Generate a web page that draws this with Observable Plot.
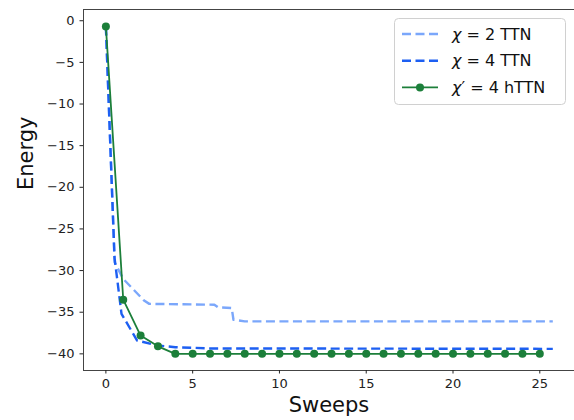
<!DOCTYPE html>
<html><head><meta charset="utf-8">
<script src="https://cdn.jsdelivr.net/npm/d3@7"></script>
<script src="https://cdn.jsdelivr.net/npm/@observablehq/plot@0.6"></script>
<style>
body{margin:0;background:#fff;}
#chart{position:relative;width:574px;height:420px;}
</style>
</head><body><div id="chart"></div>
<script>
// χ = 2 TTN
const sweepsChi2 = [0, 0.5, 1, 2.2, 2.5, 6.25, 6.45, 7.25, 7.35, 8, 25.75];
const energyChi2 = [-0.7, -29.0, -31.0, -33.6, -34.0, -34.1, -34.4, -34.5, -35.9, -36.1, -36.1];
// χ = 4 TTN
const sweepsChi4 = [0, 0.5, 0.9, 1.8, 3, 4, 6, 25.75];
const energyChi4 = [-0.7, -28.5, -35.2, -38.4, -39.0, -39.2, -39.35, -39.4];
// χ' = 4 hTTN
const sweepsH = [0,1,2,3,4,5,6,7,8,9,10,11,12,13,14,15,16,17,18,19,20,21,22,23,24,25];
const energyH = [-0.7,-33.5,-37.8,-39.1,-40.0,-40.0,-40.0,-40.0,-40.0,-40.0,-40.0,-40.0,-40.0,-40.0,-40.0,-40.0,-40.0,-40.0,-40.0,-40.0,-40.0,-40.0,-40.0,-40.0,-40.0,-40.0];

const xTicks = [0, 5, 10, 15, 20, 25];
const yTicks = [0, -5, -10, -15, -20, -25, -30, -35, -40];
const colors = {chi2: "#7ba7fb", chi4: "#1d5ff2", h: "#1c7f3a"};
const legendLabels = [
  {pre: "χ", prime: "", rest: " = 2 TTN"},
  {pre: "χ", prime: "", rest: " = 4 TTN"},
  {pre: "χ", prime: "′", rest: " = 4 hTTN"}
];

const chi2 = sweepsChi2.map((x, i) => ({x, y: energyChi2[i]}));
const chi4 = sweepsChi4.map((x, i) => ({x, y: energyChi4[i]}));
const hT = sweepsH.map((x, i) => ({x, y: energyH[i]}));

const dash = "9,4.5";
const plot = Plot.plot({
  width: 574, height: 420,
  marginLeft: 83, marginTop: 9, marginBottom: 50, marginRight: 0,
  style: {fontFamily: "DejaVu Sans, sans-serif", fontSize: "13px", background: "white", color: "#222"},
  x: {domain: [-1.29, 27.0]},
  y: {domain: [-42.0, 1.35]},
  marks: [
    Plot.line(chi2, {x: "x", y: "y", stroke: colors.chi2, strokeWidth: 2.4, strokeDasharray: dash, strokeLinecap: "butt", strokeLinejoin: "round"}),
    Plot.line(chi4, {x: "x", y: "y", stroke: colors.chi4, strokeWidth: 2.4, strokeDasharray: dash, strokeLinecap: "butt", strokeLinejoin: "round"}),
    Plot.line(hT, {x: "x", y: "y", stroke: colors.h, strokeWidth: 1.8}),
    Plot.dot(hT, {x: "x", y: "y", r: 4, fill: colors.h, stroke: null}),
    Plot.frame({stroke: "#444", strokeWidth: 1}),
    Plot.axisX({ticks: xTicks, tickSize: 3.5, tickPadding: 5, label: null}),
    Plot.axisY({ticks: yTicks, tickSize: 3.5, tickPadding: 5.5, label: null}),
    Plot.text(["Sweeps"], {text: d => d, frameAnchor: "bottom", dy: 41, fontSize: 21, fill: "#111"}),
    Plot.text(["Energy"], {text: d => d, frameAnchor: "left", dx: -57, rotate: -90, fontSize: 21, fill: "#111"})
  ]
});
document.getElementById("chart").appendChild(plot);

// Legend
const svg = d3.select(plot);
const lg = svg.append("g").attr("font-family", "DejaVu Sans, sans-serif")
  .style("font-size", "16px").attr("text-anchor", "start");
lg.append("rect").attr("x", 394.5).attr("y", 18.5).attr("width", 171).attr("height", 86)
  .attr("rx", 4).attr("fill", "rgba(255,255,255,0.85)").attr("stroke", "#d0d0d0");
const rows = [
  {color: colors.chi2, dashed: true, label: legendLabels[0]},
  {color: colors.chi4, dashed: true, label: legendLabels[1]},
  {color: colors.h, dashed: false, label: legendLabels[2]}
];
rows.forEach((r, i) => {
  const cy = 34 + i * 26.7;
  const ln = lg.append("line").attr("x1", 402).attr("x2", 438).attr("y1", cy).attr("y2", cy)
    .attr("stroke", r.color).attr("stroke-width", r.dashed ? 2.4 : 1.8);
  if (r.dashed) ln.attr("stroke-dasharray", dash);
  else lg.append("circle").attr("cx", 420).attr("cy", cy).attr("r", 4).attr("fill", r.color);
  const t = lg.append("text").attr("x", 452).attr("y", cy).attr("dy", "0.36em").attr("fill", "#111");
  t.append("tspan").attr("font-style", "italic").text(r.label.pre);
  if (r.label.prime) t.append("tspan").text(r.label.prime);
  t.append("tspan").text(r.label.rest);
});
</script>
</body></html>
